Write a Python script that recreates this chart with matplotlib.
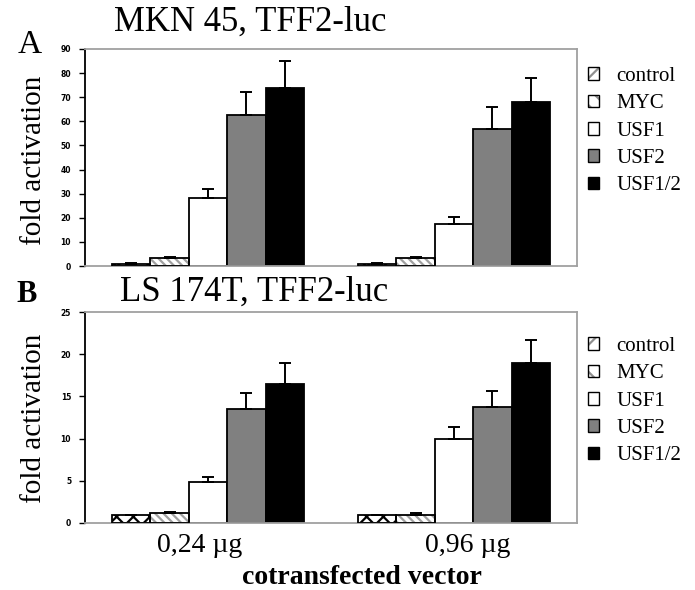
import numpy as np
import matplotlib.pyplot as plt
from matplotlib.patches import Patch

# data
doses = ["0,24 µg", "0,96 µg"]
series = ["control", "MYC", "USF1", "USF2", "USF1/2"]

mkn_mean = [[0.8, 0.8], [3.5, 3.5], [28.0, 17.5], [62.5, 57.0], [74.0, 68.0]]
mkn_err = [[0.4, 0.3], [0.3, 0.3], [4.0, 3.0], [9.5, 9.0], [11.0, 10.0]]

ls_mean = [[0.9, 0.9], [1.2, 1.0], [4.8, 10.0], [13.5, 13.7], [16.5, 19.0]]
ls_err = [[0.1, 0.1], [0.15, 0.15], [0.7, 1.4], [1.9, 1.9], [2.5, 2.7]]

fills = ["white", "white", "white", "#808080", "black"]
hatches = ["xx", "\\\\\\\\", None, None, None]
hatch_cols = ["black", "#a0a0a0", None, None, None]

serif = "Liberation Serif"
plt.rcParams["hatch.linewidth"] = 1.6

fig = plt.figure(figsize=(6.95, 5.9), dpi=100)
W, H = 695.0, 590.0


def panel(rect, means, errs, ymax, ystep):
    ax = fig.add_axes(rect)
    x = np.arange(len(doses))
    w = 0.1565
    for i in range(len(series)):
        pos = x + (i - 2) * w
        if hatches[i]:
            ax.bar(pos, means[i], w, color=fills[i], edgecolor=hatch_cols[i],
                   hatch=hatches[i], linewidth=0, zorder=2)
            ax.bar(pos, means[i], w, fill=False, edgecolor="black",
                   linewidth=1.3, zorder=3)
        else:
            ax.bar(pos, means[i], w, color=fills[i], edgecolor="black",
                   linewidth=1.3, zorder=2)
        ax.errorbar(pos, means[i], yerr=[np.zeros(len(doses)), errs[i]],
                    fmt="none", ecolor="black", elinewidth=1.4, capsize=4,
                    capthick=1.4, zorder=4)
    ax.set_xlim(-0.5, 1.5)
    ax.set_ylim(0, ymax)
    ax.set_yticks(np.arange(0, ymax + 0.1, ystep))
    ax.tick_params(axis="y", length=4, width=1, pad=6, labelsize=5.5)
    for t in ax.get_yticklabels():
        t.set_fontweight("bold")
    ax.set_xticks([])
    ax.spines["left"].set_color("black")
    ax.spines["left"].set_linewidth(1.3)
    for s in ["top", "right", "bottom"]:
        ax.spines[s].set_color("#a0a0a0")
        ax.spines[s].set_linewidth(1.3)
    return ax


ax1 = panel([85 / W, 1 - 266 / H, 492 / W, 217 / H], mkn_mean, mkn_err, 90, 10)
ax2 = panel([85 / W, 1 - 523 / H, 492 / W, 211 / H], ls_mean, ls_err, 25, 5)

# legend: hatched swatches drawn in grey with a black outline on top
handles = []
for i in range(len(series)):
    if hatches[i]:
        under = Patch(facecolor="white", edgecolor="#909090", linewidth=0,
                      hatch=hatches[i][:len(hatches[i]) // 2])
        outline = Patch(fill=False, edgecolor="black", linewidth=1)
        handles.append((under, outline))
    else:
        handles.append(Patch(facecolor=fills[i], edgecolor="black", linewidth=1))


def add_legend(y_top):
    fig.legend(handles, series, loc="upper left",
               bbox_to_anchor=(588 / W, 1 - y_top / H), frameon=False,
               prop={"family": serif, "size": 15}, handlelength=0.55,
               handleheight=0.55, handletextpad=0.8, labelspacing=0.4,
               borderpad=0, borderaxespad=0)


add_legend(67)
add_legend(337)

fig.text(250 / W, 1 - 22 / H, "MKN 45, TFF2-luc", family=serif, fontsize=25,
         ha="center", va="center")
fig.text(254 / W, 1 - 292 / H, "LS 174T, TFF2-luc", family=serif, fontsize=25,
         ha="center", va="center")
fig.text(30 / W, 1 - 45 / H, "A", family=serif, fontsize=24, ha="center", va="center")
fig.text(27 / W, 1 - 294 / H, "B", family=serif, fontsize=22, fontweight="bold",
         ha="center", va="center")
fig.text(34 / W, 1 - 160 / H, "fold activation", family=serif, fontsize=21,
         rotation=90, ha="center", va="center")
fig.text(34 / W, 1 - 418 / H, "fold activation", family=serif, fontsize=21,
         rotation=90, ha="center", va="center")
fig.text(200 / W, 1 - 545 / H, doses[0], family=serif, fontsize=20,
         ha="center", va="center")
fig.text(468 / W, 1 - 545 / H, doses[1], family=serif, fontsize=20,
         ha="center", va="center")
fig.text(362 / W, 1 - 578 / H, "cotransfected vector", family=serif, fontsize=20,
         fontweight="bold", ha="center", va="center")

fig.savefig("out.png", dpi=100)
